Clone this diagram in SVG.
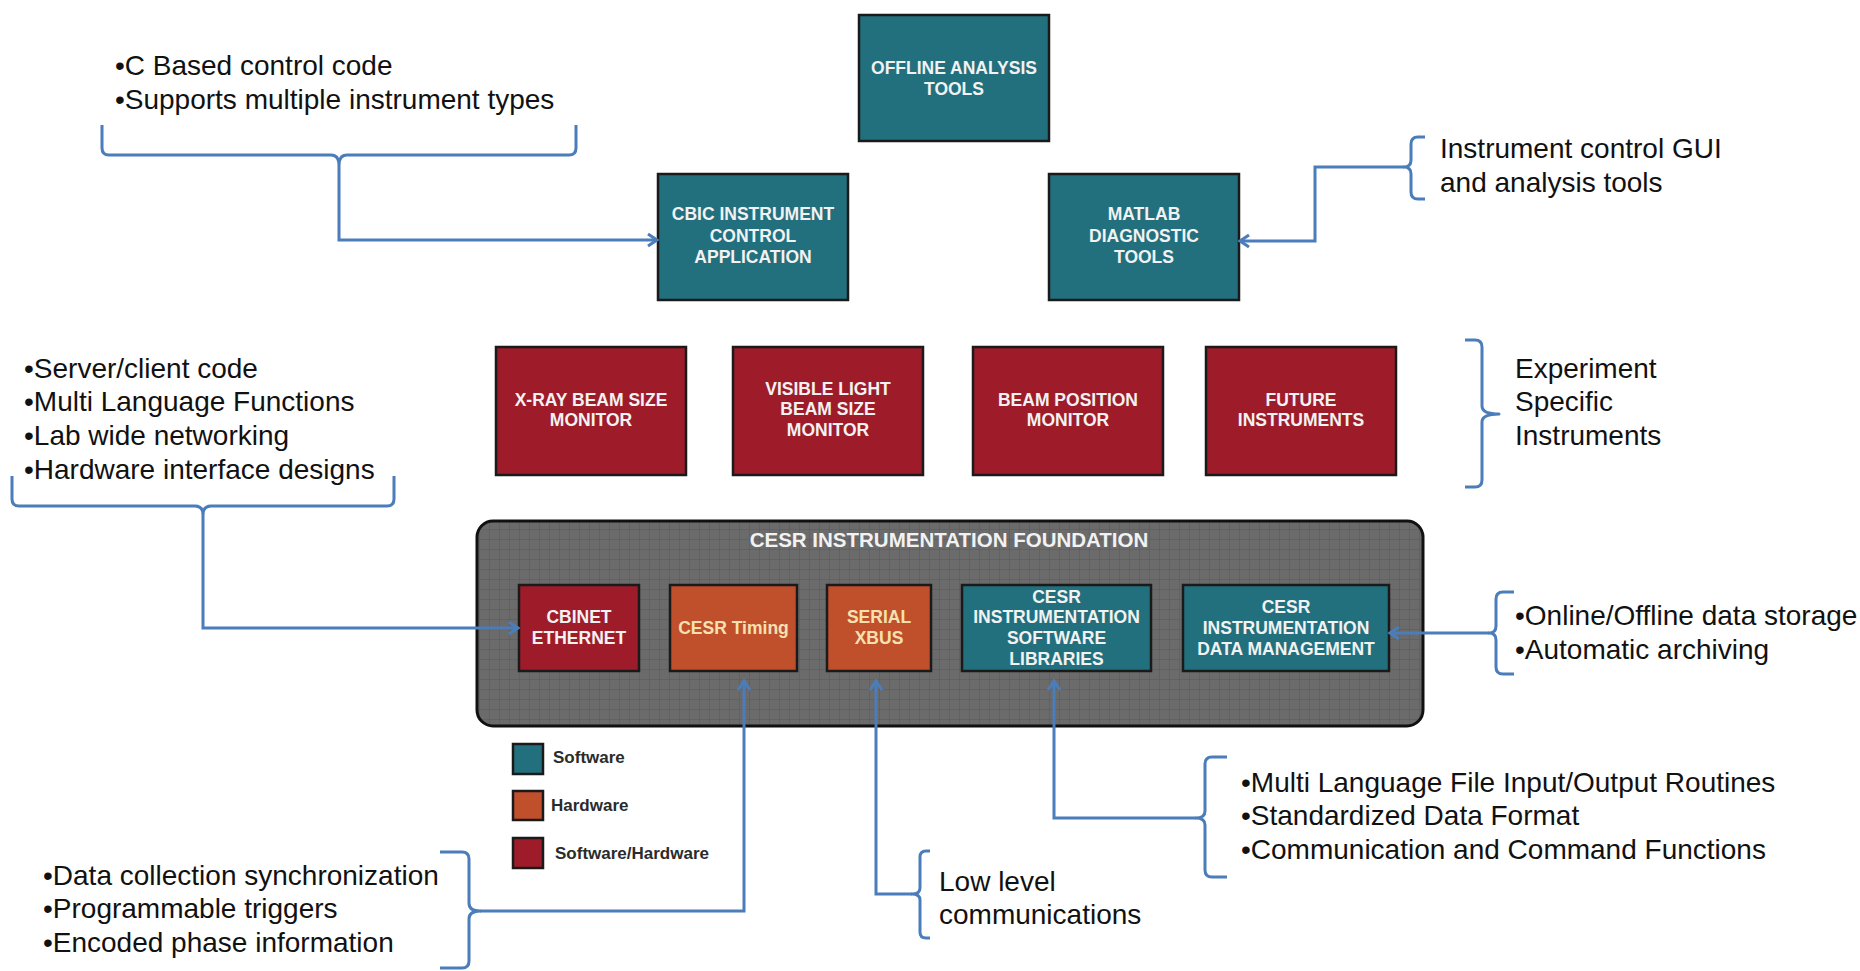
<svg xmlns="http://www.w3.org/2000/svg" width="1860" height="971" viewBox="0 0 1860 971">
<style>
.body{font-family:"Liberation Sans",Arial,sans-serif;font-size:28px;fill:#111}
.lbl{font-family:"Liberation Sans",Arial,sans-serif;font-size:17.5px;font-weight:bold;fill:#f2f2f2;text-anchor:middle}
.hw{fill:#f5e1b0}
.leg{font-family:"Liberation Sans",Arial,sans-serif;font-size:17px;font-weight:bold;fill:#2b2b2b}
.title{font-family:"Liberation Sans",Arial,sans-serif;font-size:20.5px;font-weight:bold;fill:#f2f2f2;text-anchor:middle}
.sw{fill:#22707e;stroke:#1a1a1a;stroke-width:2.5}
.rd{fill:#9e1c29;stroke:#1a1a1a;stroke-width:2.5}
.or{fill:#c04f2c;stroke:#1a1a1a;stroke-width:2.5}
.br{fill:none;stroke:#4a7dba;stroke-width:3;stroke-linejoin:round}
.cn{fill:none;stroke:#4a7dba;stroke-width:3;marker-end:url(#arr)}
</style>
<defs>
<marker id="arr" markerUnits="userSpaceOnUse" markerWidth="16" markerHeight="16" viewBox="0 0 16 16" refX="14" refY="8" orient="auto">
<path d="M5,2 L14,8 L5,14" fill="none" stroke="#4a7dba" stroke-width="3"/>
</marker>
<pattern id="grid" patternUnits="userSpaceOnUse" width="10" height="10">
<rect width="10" height="10" fill="#6b6b6b"/>
<path d="M10,0 V10 M0,10 H10" stroke="#585858" stroke-width="1"/>
</pattern>
</defs>
<rect width="1860" height="971" fill="#ffffff"/>

<g id="foundation">
<rect x="477" y="521" width="946" height="205" rx="16" fill="url(#grid)" stroke="#111" stroke-width="3"/>
<text class="title" x="949" y="547">CESR INSTRUMENTATION FOUNDATION</text>
</g>

<g id="offline">
<rect class="sw" x="859" y="15" width="190" height="126"/>
<text class="lbl" x="954" y="74">OFFLINE ANALYSIS</text>
<text class="lbl" x="954" y="95">TOOLS</text>
</g>
<g id="cbic">
<rect class="sw" x="658" y="174" width="190" height="126"/>
<text class="lbl" x="753" y="220">CBIC INSTRUMENT</text>
<text class="lbl" x="753" y="242">CONTROL</text>
<text class="lbl" x="753" y="263">APPLICATION</text>
</g>
<g id="matlab">
<rect class="sw" x="1049" y="174" width="190" height="126"/>
<text class="lbl" x="1144" y="220">MATLAB</text>
<text class="lbl" x="1144" y="242">DIAGNOSTIC</text>
<text class="lbl" x="1144" y="263">TOOLS</text>
</g>

<g id="xray">
<rect class="rd" x="496" y="347" width="190" height="128"/>
<text class="lbl" x="591" y="406">X-RAY BEAM SIZE</text>
<text class="lbl" x="591" y="426">MONITOR</text>
</g>
<g id="visible">
<rect class="rd" x="733" y="347" width="190" height="128"/>
<text class="lbl" x="828" y="395">VISIBLE LIGHT</text>
<text class="lbl" x="828" y="415">BEAM SIZE</text>
<text class="lbl" x="828" y="436">MONITOR</text>
</g>
<g id="bpm">
<rect class="rd" x="973" y="347" width="190" height="128"/>
<text class="lbl" x="1068" y="406">BEAM POSITION</text>
<text class="lbl" x="1068" y="426">MONITOR</text>
</g>
<g id="future">
<rect class="rd" x="1206" y="347" width="190" height="128"/>
<text class="lbl" x="1301" y="406">FUTURE</text>
<text class="lbl" x="1301" y="426">INSTRUMENTS</text>
</g>

<g id="cbinet">
<rect class="rd" x="519" y="585" width="120" height="86"/>
<text class="lbl" x="579" y="623">CBINET</text>
<text class="lbl" x="579" y="644">ETHERNET</text>
</g>
<g id="timing">
<rect class="or" x="670" y="585" width="127" height="86"/>
<text class="lbl hw" x="733.5" y="634">CESR Timing</text>
</g>
<g id="xbus">
<rect class="or" x="827" y="585" width="104" height="86"/>
<text class="lbl hw" x="879" y="623">SERIAL</text>
<text class="lbl hw" x="879" y="644">XBUS</text>
</g>
<g id="libraries">
<rect class="sw" x="962" y="585" width="189" height="86"/>
<text class="lbl" x="1056.5" y="603">CESR</text>
<text class="lbl" x="1056.5" y="623">INSTRUMENTATION</text>
<text class="lbl" x="1056.5" y="644">SOFTWARE</text>
<text class="lbl" x="1056.5" y="665">LIBRARIES</text>
</g>
<g id="datamgmt">
<rect class="sw" x="1183" y="585" width="206" height="86"/>
<text class="lbl" x="1286" y="613">CESR</text>
<text class="lbl" x="1286" y="634">INSTRUMENTATION</text>
<text class="lbl" x="1286" y="655">DATA MANAGEMENT</text>
</g>

<g id="legend">
<rect class="sw" x="513" y="744" width="30" height="30" stroke="none"/>
<text class="leg" x="553" y="763">Software</text>
<rect class="or" x="513" y="791" width="30" height="29" stroke="none"/>
<text class="leg" x="551" y="811">Hardware</text>
<rect class="rd" x="513" y="838" width="30" height="30" stroke="none"/>
<text class="leg" x="555" y="859">Software/Hardware</text>
</g>

<g id="note-cbic">
<text class="body" x="115" y="75">•C Based control code</text>
<text class="body" x="115" y="109">•Supports multiple instrument types</text>
<path class="br" d="M102,125 V148 Q102,155 109,155 H331 Q338,155 339,163 Q340,155 347,155 H569 Q576,155 576,148 V125"/>
</g>
<g id="note-matlab">
<text class="body" x="1440" y="158">Instrument control GUI</text>
<text class="body" x="1440" y="192">and analysis tools</text>
<path class="br" d="M1425,137 H1418 Q1411,137 1411,144 V160 Q1411,167 1404,167 Q1411,167 1411,174 V192 Q1411,199 1418,199 H1425"/>
</g>
<g id="note-experiment">
<text class="body" x="1515" y="378">Experiment</text>
<text class="body" x="1515" y="411">Specific</text>
<text class="body" x="1515" y="445">Instruments</text>
<path class="br" d="M1465,340 H1475 Q1482,340 1482,347 V406 Q1482,414 1499,414 Q1482,414 1482,422 V480 Q1482,487 1475,487 H1465"/>
</g>
<g id="note-cbinet">
<text class="body" x="24" y="378">•Server/client code</text>
<text class="body" x="24" y="411">•Multi Language Functions</text>
<text class="body" x="24" y="445">•Lab wide networking</text>
<text class="body" x="24" y="479">•Hardware interface designs</text>
<path class="br" d="M12,476 V499 Q12,506 19,506 H195 Q202,506 203,513 Q204,506 211,506 H387 Q394,506 394,499 V476"/>
</g>
<g id="note-data">
<text class="body" x="1515" y="625">•Online/Offline data storage</text>
<text class="body" x="1515" y="659">•Automatic archiving</text>
<path class="br" d="M1514,592 H1503 Q1496,592 1496,599 V626 Q1496,633 1489,633 Q1496,633 1496,640 V667 Q1496,674 1503,674 H1514"/>
</g>
<g id="note-timing">
<text class="body" x="43" y="885">•Data collection synchronization</text>
<text class="body" x="43" y="918">•Programmable triggers</text>
<text class="body" x="43" y="952">•Encoded phase information</text>
<path class="br" d="M440,852 H462 Q469,852 469,859 V903 Q469,911 480,911 Q469,911 469,919 V961 Q469,968 462,968 H440"/>
</g>
<g id="note-xbus">
<text class="body" x="939" y="891">Low level</text>
<text class="body" x="939" y="924">communications</text>
<path class="br" d="M930,851 H926 Q920,851 920,857 V888 Q920,894 912,894 Q920,894 920,900 V932 Q920,938 926,938 H930"/>
</g>
<g id="note-libraries">
<text class="body" x="1241" y="792">•Multi Language File Input/Output Routines</text>
<text class="body" x="1241" y="825">•Standardized Data Format</text>
<text class="body" x="1241" y="859">•Communication and Command Functions</text>
<path class="br" d="M1227,757 H1212 Q1205,757 1205,764 V811 Q1205,818 1196,818 Q1205,818 1205,825 V870 Q1205,877 1212,877 H1227"/>
</g>

<g id="connectors">
<path class="cn" d="M339,163 V240 H657"/>
<path class="cn" d="M1404,167 H1315 V241 H1240"/>
<path class="cn" d="M203,513 V628 H518"/>
<path class="cn" d="M1489,633 H1390"/>
<path class="cn" d="M480,911 H744 V681"/>
<path class="cn" d="M912,894 H876 V681"/>
<path class="cn" d="M1196,818 H1054 V681"/>
</g>
</svg>
